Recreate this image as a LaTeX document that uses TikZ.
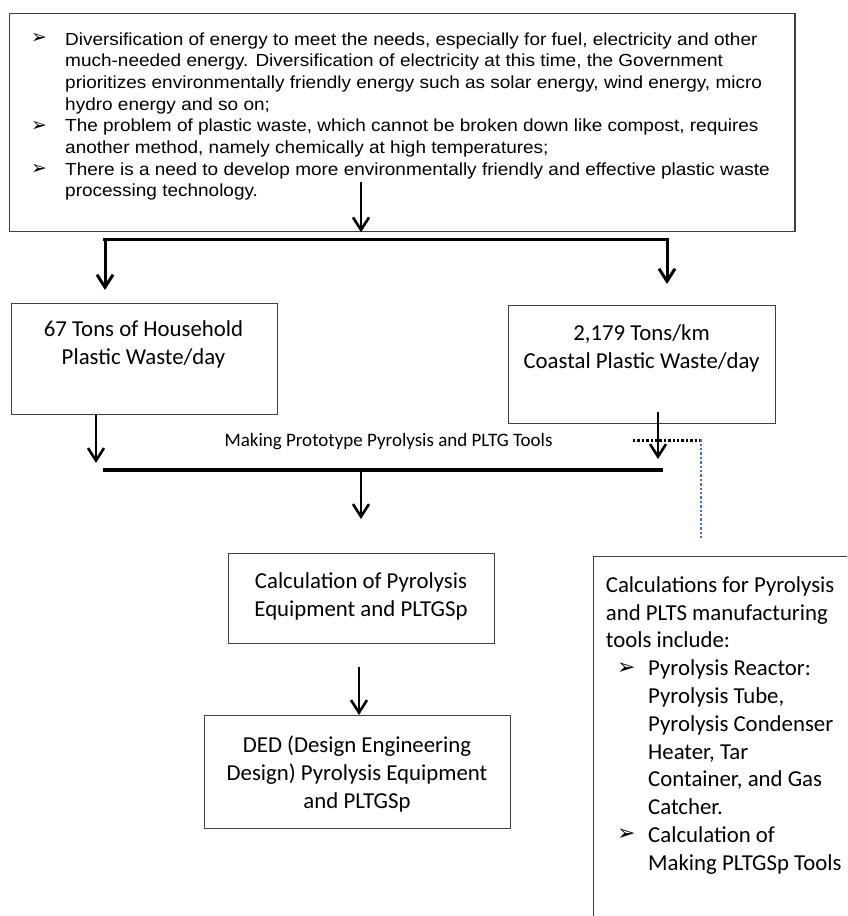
\documentclass[tikz,border=0pt]{standalone}
\usepackage{fontspec}
\setmainfont[FakeStretch=1.085]{Liberation Sans}
\newfontfamily\carl{Carlito}
\newfontfamily\dejav{DejaVu Sans}
\usetikzlibrary{arrows.meta}
\definecolor{boxline}{RGB}{64,64,64}
\definecolor{dotblue}{RGB}{68,114,196}
\begin{document}
\begin{tikzpicture}[x=1pt,y=-1pt,
  box/.style={draw=boxline, line width=1.3pt, rectangle, inner sep=0pt, anchor=north west},
  arr/.style={line width=2.6pt, -{Straight Barb[length=12.5pt,width=16pt]}},
  bar/.style={line width=3.6pt},
  artxt/.style={font=\fontsize{17.5}{21.7}\selectfont, inner sep=0pt, anchor=north west, align=left},
  bul/.style={font=\dejav\fontsize{19}{19}\selectfont, inner sep=0pt, anchor=base west},
  caltxt/.style={font=\carl\fontsize{22.8}{27.8}\selectfont, inner sep=0pt, anchor=north, align=center},
  calleft/.style={font=\carl\fontsize{22.8}{27.8}\selectfont, inner sep=0pt, anchor=north west, align=left},
  calbul/.style={font=\dejav\fontsize{22}{22}\selectfont, inner sep=0pt, anchor=base west},
  lbl/.style={font=\carl\fontsize{19}{22}\selectfont, inner sep=0pt, anchor=base},
  blackdots/.style={line width=2.6pt, dash pattern=on 2.4pt off 2pt},
  bluedots/.style={draw=dotblue, line width=2.2pt, dash pattern=on 2.4pt off 2pt}
]
\useasboundingbox (0,0) rectangle (847,916);
\fill[white] (0,0) rectangle (847,916);
\clip (0,0) rectangle (847,916);

% ---------- top box ----------
\node[box, minimum width=785.3pt, minimum height=218pt] (top) at (9,13) {};
\node[bul] (b1) at (31,43.8) {➢};
\node[bul] (b2) at (31,131.1) {➢};
\node[bul] (b3) at (31,174.4) {➢};
\node[artxt] (t1) at (65,31.8) {\rule{0pt}{13pt}Diversification of energy to meet the needs, especially for fuel, electricity and other\\
much-needed energy. Diversification of electricity at this time, the Government\\
prioritizes environmentally friendly energy such as solar energy, wind energy, micro\\
hydro energy and so on;};
\node[artxt] (t2) at (65,118.6) {\rule{0pt}{13pt}The problem of plastic waste, which cannot be broken down like compost, requires\\
another method, namely chemically at high temperatures;};
\node[artxt] (t3) at (65,162) {\rule{0pt}{13pt}There is a need to develop more environmentally friendly and effective plastic waste\\
processing technology.};

\coordinate (topA) at (361,182);
\draw[arr] (topA) -- (topA |- top.south);

% ---------- bracket ----------
\coordinate (brL) at (105,239.5);
\coordinate (brR) at (667,239.5);
\coordinate (brLt) at (105,237.7);
\coordinate (brRt) at (667,237.7);
\coordinate (tipL) at (105,290);
\coordinate (tipR) at (667,284);
\draw[bar] ([xshift=-1.8pt]brL) -- ([xshift=1.8pt]brR);
\draw[arr, line width=3pt] (brLt) -- (tipL);
\draw[arr, line width=3pt] (brRt) -- (tipR);

% ---------- second tier ----------
\node[box, minimum width=266.2pt, minimum height=111.3pt] (hh) at (10.8,302.7) {};
\node[caltxt] (hht) at (143.5,320.7) {\rule{0pt}{16pt}67 Tons of Household\\Plastic Waste/day};
\node[box, minimum width=267pt, minimum height=117.7pt] (cs) at (508,305) {};
\node[caltxt] (cst) at (641.5,324) {\rule{0pt}{16pt}2,179 Tons/km\\Coastal Plastic Waste/day};

\coordinate (hhA) at (96,463);
\draw[arr] (hhA |- hh.south) -- (hhA);
\coordinate (csA0) at (658,412);
\coordinate (csA) at (658,459);
\draw[arr] (csA0) -- (csA);

\node[lbl] (mk) at (388.5,446) {Making Prototype Pyrolysis and PLTG Tools};

\coordinate (dS) at (633,440.7);
\coordinate (dC) at (701,440.7);
\coordinate (dE) at (701,538);
\draw[blackdots] (dS) -- (dC);
\draw[bluedots] ([yshift=1.5pt]dC) -- (dE);

\coordinate (lbL) at (103,470);
\coordinate (lbR) at (662.7,470);
\draw[line width=3.4pt] (lbL) -- (lbR);
\coordinate (cA0) at (361,470);
\coordinate (cA) at (361,519);
\draw[arr] (cA0) -- (cA);

% ---------- calculation ----------
\node[box, minimum width=266pt, minimum height=90pt] (calc) at (228,553) {};
\node[caltxt] (calct) at (361,572) {\rule{0pt}{16pt}Calculation of Pyrolysis\\Equipment and PLTGSp};
\coordinate (cdA0) at (359,667);
\draw[arr] (cdA0) -- (cdA0 |- 0,715);

\node[box, minimum width=306pt, minimum height=113pt] (ded) at (204,715) {};
\node[caltxt] (dedt) at (357,736) {\rule{0pt}{16pt}DED (Design Engineering\\Design) Pyrolysis Equipment\\and PLTGSp};

% ---------- right tall box ----------
\node[box, minimum width=320pt, minimum height=420pt] (rt) at (592.5,555.5) {};
\node[calleft] (rtt) at (605.7,576) {\rule{0pt}{16pt}Calculations for Pyrolysis\\and PLTS manufacturing\\tools include:};
\node[calbul] (rb1) at (617,674) {➢};
\node[calleft] (rti1) at (648,659.4) {\rule{0pt}{16pt}Pyrolysis Reactor:\\Pyrolysis Tube,\\Pyrolysis Condenser\\Heater, Tar\\Container, and Gas\\Catcher.};
\node[calbul] (rb2) at (617,840.6) {➢};
\node[calleft] (rti2) at (648,826.2) {\rule{0pt}{16pt}Calculation of\\Making PLTGSp Tools};
\end{tikzpicture}
\end{document}
